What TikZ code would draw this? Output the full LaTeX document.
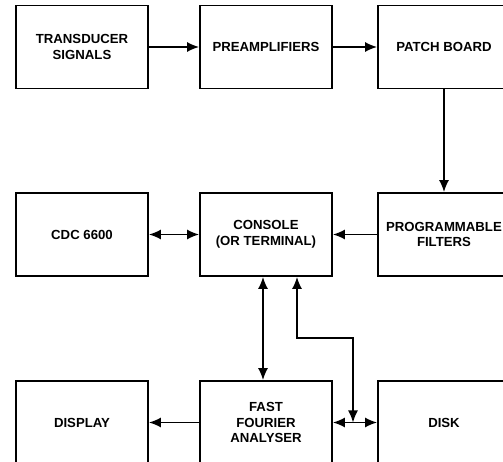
\documentclass[tikz,border=0pt]{standalone}
\usepackage{fontspec}
\setmainfont{Liberation Sans}
\usetikzlibrary{arrows.meta,positioning,calc}
\tikzset{
  blk/.style={rectangle,draw=black,line width=1pt,minimum width=26.4mm,
              minimum height=16.6mm,align=center,inner sep=1pt,
              font=\fontsize{7.5}{9}\selectfont\bfseries},
  flow/.style={-{Latex[length=2.4mm,width=2mm]},line width=0.9pt},
  both/.style={{Latex[length=2.4mm,width=2mm]}-{Latex[length=2.4mm,width=2mm]},line width=0.9pt},
}
\begin{document}
\begin{tikzpicture}
  \useasboundingbox (0,0) rectangle (10.06,-9.24);
  \clip (0,0) rectangle (10.06,-9.24);
  % top row
  \node[blk] (trans) at (1.64,-0.94) {TRANSDUCER\\SIGNALS};
  \node[blk] (pre)   at (5.32,-0.94) {PREAMPLIFIERS};
  \node[blk] (patch) at (8.88,-0.94) {PATCH BOARD};
  % middle row
  \node[blk] (cdc)   at (1.64,-4.69) {CDC 6600};
  \node[blk] (cons)  at (5.32,-4.69) {CONSOLE\\(OR TERMINAL)};
  \node[blk] (filt)  at (8.88,-4.69) {PROGRAMMABLE\\FILTERS};
  % bottom row
  \node[blk] (disp)  at (1.64,-8.45) {DISPLAY};
  \node[blk] (ffa)   at (5.32,-8.45) {FAST\\FOURIER\\ANALYSER};
  \node[blk] (disk)  at (8.88,-8.45) {DISK};
  \coordinate (j) at (7.06,-8.45);
  \draw[flow] (trans) -- (pre);
  \draw[flow] (pre) -- (patch);
  \draw[flow] (patch) -- (filt);
  \draw[flow] (filt) -- (cons);
  \draw[both] (cdc) -- (cons);
  \draw[both] ([xshift=-0.06cm]cons.south) -- ([xshift=-0.06cm]ffa.north);
  \draw[flow] (ffa) -- (disp);
  \draw[both] (ffa) -- (disk);
  \draw[both] ([xshift=0.62cm]cons.south) |- (7.06,-6.76) -- (j);
\end{tikzpicture}
\end{document}
